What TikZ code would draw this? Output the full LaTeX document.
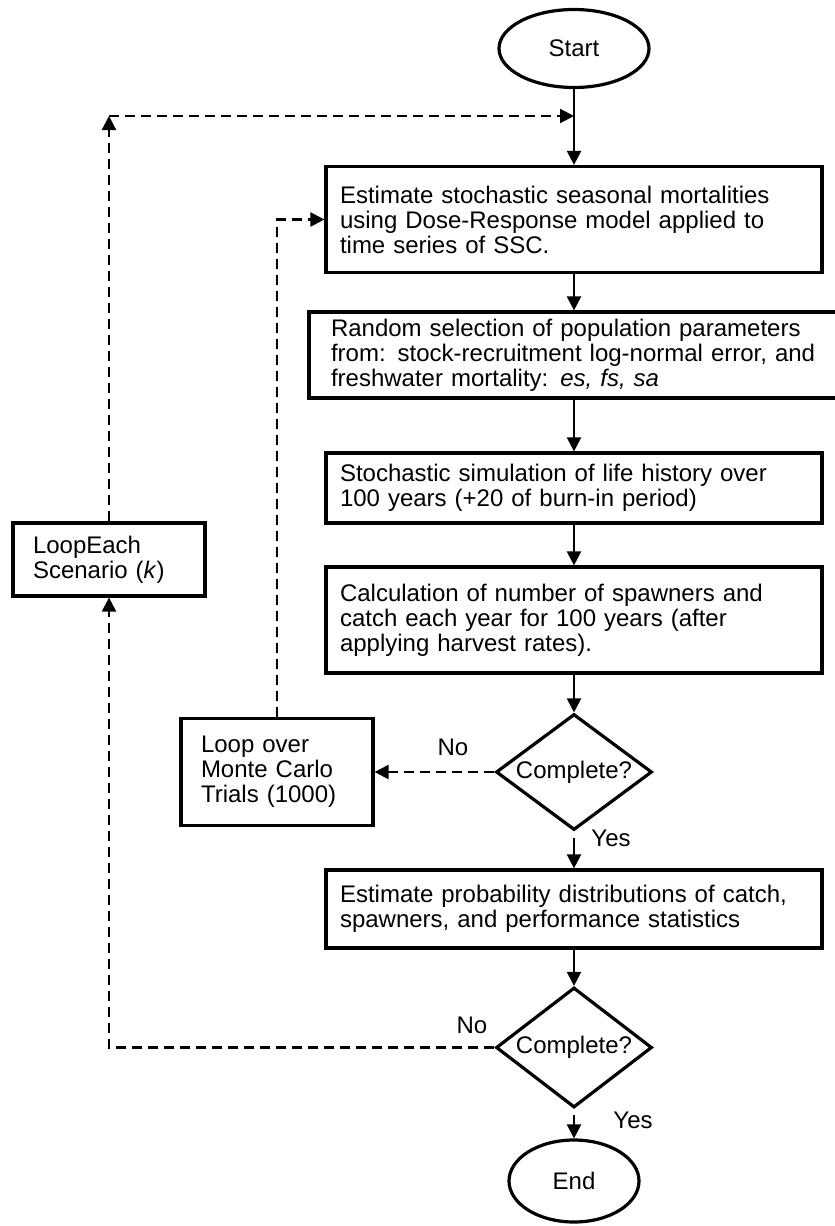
\documentclass[tikz,border=0pt]{standalone}
\usepackage{fontspec}
\setmainfont{Liberation Sans}
\usepackage{tikz}
\usetikzlibrary{arrows.meta,shapes.geometric,positioning}

\begin{document}
\begin{tikzpicture}[x=0.5pt, y=-0.5pt,
		>={Triangle[length=7pt,width=7pt]},
		font=\fontsize{12}{12.5}\selectfont,
		term/.style = {draw, ellipse, line width=1.6pt, inner sep=0pt},
		box/.style = {draw, rectangle, line width=1.6pt, align=left, inner xsep=7pt, inner ysep=0pt},
		test/.style = {draw, diamond, line width=1.6pt, inner sep=0pt, minimum width=78pt},
		flow/.style = {->, line width=1.1pt},
		back/.style = {->, line width=1.1pt, dash pattern=on 5pt off 3pt},
		lbl/.style = {inner sep=0pt}
		]
		\useasboundingbox (0,0) rectangle (835,1226);
		
		%main column
		\node (start) [term, minimum width=75pt, minimum height=39pt] at (574,48.5) {Start};
		\node (est) [box, text width=234pt, minimum height=53pt] at (574,219.5)
		{Estimate stochastic seasonal mortalities\\using Dose-Response model applied to\\time series of SSC.};
		\node (sel) [box, inner xsep=11pt, text width=243pt, minimum height=43pt] at (574,355)
		{Random selection of population parameters\\from: stock-recruitment log-normal error, and\\freshwater mortality: \textit{es, fs, sa}};
		\node (sim) [box, text width=234pt, minimum height=35pt] at (574,488)
		{Stochastic simulation of life history over\\100 years (+20 of burn-in period)};
		\node (calc) [box, text width=234pt, minimum height=53pt] at (574,620)
		{Calculation of number of spawners and\\catch each year for 100 years (after\\applying harvest rates).};
		\node (chk1) [test, minimum height=58pt] at (574,772) {\makebox[0pt]{Complete?}};
		\node (prob) [box, text width=234pt, minimum height=39pt] at (574,909)
		{Estimate probability distributions of catch,\\spawners, and performance statistics};
		\node (chk2) [test, minimum height=60pt] at (574,1047.5) {\makebox[0pt]{Complete?}};
		\node (end) [term, minimum width=65pt, minimum height=41pt] at (574,1181) {End};
		
		%loop boxes
		\node (scen) [box, inner xsep=10pt, text width=76pt, minimum height=36.5pt] at (109,559.5)
		{LoopEach\\Scenario (\textit{k})};
		\node (mc) [box, inner xsep=10pt, text width=76pt, minimum height=53.5pt] at (277,772)
		{Loop over\\Monte Carlo\\Trials (1000)};
		
		%labels
		\node (no1) [lbl] at (453,747) {No};
		\node (yes1) [lbl] at (611,838) {Yes};
		\node (no2) [lbl] at (472,1025) {No};
		\node (yes2) [lbl] at (633,1120) {Yes};
		
		\coordinate (cnr) at (109,116);
		
		\path[flow]
		(start) edge (est)
		(est)   edge (sel)
		(sel)   edge (sim)
		(sim)   edge (calc)
		(calc)  edge (chk1)
		(chk1)  edge [shorten <=3pt] (prob)
		(prob)  edge (chk2)
		(chk2)  edge [shorten <=3pt] (end)
		;
		
		%inner loop over trials
		\draw[back] (chk1.west) -- (mc.east);
		\draw[back] (mc.north) |- (est.west);
		%outer loop over scenarios
		\draw[back] (chk2.west) -| (scen.south);
		\draw[back] (scen.north) -- (cnr);
		\draw[back] (cnr) -- (start |- cnr);
		
\end{tikzpicture}
\end{document}
